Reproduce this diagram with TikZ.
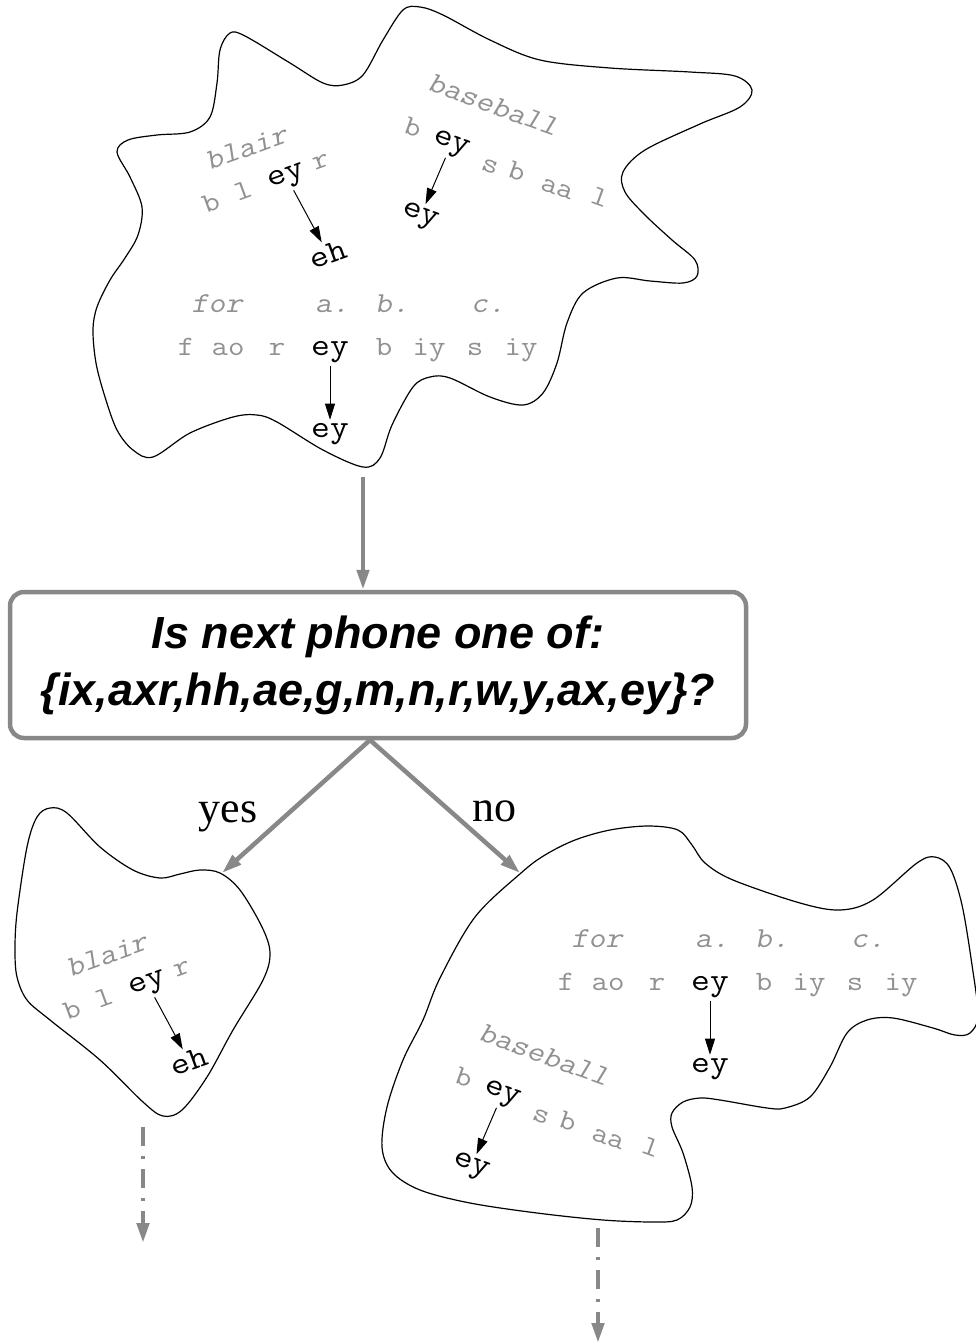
\documentclass[tikz,border=0pt]{standalone}
\usepackage{fontspec}
\usetikzlibrary{arrows.meta}
\newfontfamily\monofam{Latin Modern Mono}[FakeStretch=1.14]
\newfontfamily\monoobl{Latin Modern Mono}[FakeStretch=1.14, FakeSlant=0.2]
\newfontfamily\sansfam{Liberation Sans}
\newfontfamily\seriffam{Liberation Serif}
\definecolor{phgray}{RGB}{145,145,145}
\definecolor{arrgray}{RGB}{136,136,136}
\tikzset{
  gphone/.style={font=\monofam\fontsize{28}{32}\selectfont, text=phgray, inner sep=0pt},
  gword/.style={font=\monoobl\fontsize{29}{33}\selectfont, text=phgray, inner sep=0pt},
  bphone/.style={font=\monofam\fontsize{32}{36}\selectfont, text=black, inner sep=2pt},
  phonearrow/.style={draw=black, line width=1pt, -{Triangle[length=16pt,width=10pt]}, shorten >=1pt, shorten <=1pt},
  cloudline/.style={draw=black, line width=1.2pt},
  grayarrow/.style={draw=arrgray, line width=4.5pt, -{Triangle[length=20pt,width=12pt]}},
  dasharrow/.style={grayarrow, dash pattern=on 19pt off 10pt on 3pt off 10pt},
  qbox/.style={draw=arrgray, line width=4.5pt, rounded corners=14pt, fill=white,
    minimum width=736pt, minimum height=146pt, align=center,
    font=\sansfam\bfseries\itshape\fontsize{45}{57}\selectfont},
  lbl/.style={font=\seriffam\fontsize{44}{50}\selectfont, inner sep=0pt},
  % word "blair" with its phones, tilted upwards
  blairgrp/.pic={
    \node[gword, rotate=20] (-word) at (-41,-30) {blair};
    \node[gphone, rotate=20] (-p1) at (-76,25) {b};
    \node[gphone, rotate=20] (-p2) at (-44,13) {l};
    \node[bphone, rotate=20] (-ey) at (0,0) {ey};
    \node[gphone, rotate=20] (-p4) at (34,-16) {r};
    \node[bphone, rotate=20] (-res) at (41,76) {eh};
    \draw[phonearrow] (-ey) -- (-res);
  },
  % word "baseball" with its phones, tilted downwards
  basegrp/.pic={
    \node[gword, rotate=-20] (-word) at (42,-40) {baseball};
    \node[gphone, rotate=-20] (-p1) at (-38,-18) {b};
    \node[bphone, rotate=-20] (-ey) at (0,0) {ey};
    \node[gphone, rotate=-20] (-p3) at (39,22) {s};
    \node[gphone, rotate=-20] (-p4) at (66,26) {b};
    \node[gphone, rotate=-20] (-p5) at (106,44) {aa};
    \node[gphone, rotate=-20] (-p6) at (149,52) {l};
    \node[bphone, rotate=-20] (-res) at (-31,72) {ey};
    \draw[phonearrow] (-ey) -- (-res);
  },
  % phrase "for a. b. c." with its phones
  forgrp/.pic={
    \node[gword, anchor=base] (-w1) at (-113,-43) {for};
    \node[gword, anchor=base] (-w2) at (2,-43) {a.};
    \node[gword, anchor=base] (-w3) at (62,-43) {b.};
    \node[gword, anchor=base] (-w4) at (158,-43) {c.};
    \node[gphone, anchor=base] (-p1) at (-144,0) {f};
    \node[gphone, anchor=base] (-p2) at (-102,0) {ao};
    \node[gphone, anchor=base] (-p3) at (-53,0) {r};
    \node[bphone, anchor=base] (-ey) at (0,0) {ey};
    \node[gphone, anchor=base] (-p5) at (54,0) {b};
    \node[gphone, anchor=base] (-p6) at (99,0) {iy};
    \node[gphone, anchor=base] (-p7) at (145,0) {s};
    \node[gphone, anchor=base] (-p8) at (191,0) {iy};
    \node[bphone, anchor=base] (-res) at (0,82) {ey};
    \draw[phonearrow] (-ey) -- (-res);
  },
}
\begin{document}
\begin{tikzpicture}[x=1pt, y=-1pt]
\fill[white] (0,0) rectangle (976,1344);
\useasboundingbox (0,0) rectangle (976,1344);

% parent set of examples
\draw[cloudline] plot[smooth cycle, tension=0.55] coordinates {
  (117,152) (128,140) (157,135) (190,132) (210,117) (217,83) (220,50) (230,33)
  (245,36) (290,63) (323,83) (343,85) (363,75) (383,40) (403,10) (420,7)
  (443,15) (490,40) (540,60) (610,68) (690,72) (735,76) (752,90) (740,107)
  (700,124) (645,150) (623,172) (625,192) (645,215) (672,240) (695,260)
  (697,276) (683,283) (650,281) (617,278) (583,293) (567,323) (557,363)
  (543,393) (523,405) (490,397) (450,378) (430,377) (413,387) (392,425)
  (380,458) (363,467) (323,450) (277,422) (257,415) (233,417) (190,433)
  (153,457) (133,450) (117,430) (105,397) (96,363) (93,330) (97,307)
  (110,280) (125,258) (138,235) (142,207) (130,177)};

% subset answering "yes"
\draw[cloudline] plot[smooth cycle, tension=0.55] coordinates {
  (50,808) (67,813) (100,847) (133,870) (160,878) (180,874) (200,870)
  (220,873) (240,890) (262,927) (270,953) (263,980) (233,1030) (207,1077)
  (182,1110) (163,1116) (143,1102) (100,1060) (50,1020) (27,1000) (17,977)
  (15,950) (17,913) (27,847) (37,817)};

% subset answering "no"
\draw[cloudline] plot[smooth cycle, tension=0.55] coordinates {
  (521,873) (545,855) (575,840) (610,830) (648,826) (678,830) (692,845)
  (705,863) (733,880) (800,903) (840,910) (873,900) (917,863) (935,857)
  (950,868) (962,905) (972,965) (978,1015) (970,1033) (955,1035) (933,1028)
  (893,1018) (867,1020) (847,1033) (830,1067) (810,1097) (785,1108)
  (767,1108) (720,1100) (700,1098) (683,1102) (672,1113) (672,1127)
  (683,1153) (692,1187) (690,1207) (677,1220) (653,1222) (603,1220)
  (537,1213) (470,1203) (420,1190) (392,1172) (382,1147) (387,1107)
  (403,1060) (423,1020) (440,978) (475,917)};

% example words and their phone mappings
\pic (tb) at (287,178) {blairgrp};
\pic (tbs) at (451,145) {basegrp};
\pic (tf) at (330,355) {forgrp};
\pic (lb) at (148,985) {blairgrp};
\pic (rbs) at (502,1095) {basegrp};
\pic (rf) at (710,990) {forgrp};

% the question
\node[qbox] (q) at (378,665)
  {Is next phone one of:\\\{ix,axr,hh,ae,g,m,n,r,w,y,ax,ey\}?};

\coordinate (topout) at (363,477);
\draw[grayarrow] (topout) -- (topout |- q.north);

\coordinate (split) at (370,740);
\coordinate (yesin) at (222,873);
\coordinate (noin) at (520,873);
\draw[grayarrow] (split) -- (yesin);
\draw[grayarrow] (split) -- (noin);
\node[lbl, anchor=base] (yes) at (228,822) {yes};
\node[lbl, anchor=base] (no) at (494,821) {no};

% further splits
\coordinate (lout) at (143,1127);
\coordinate (lend) at (143,1243);
\draw[dasharrow] (lout) -- (lend);
\coordinate (rout) at (598,1228);
\coordinate (rend) at (598,1343);
\draw[dasharrow] (rout) -- (rend);
\end{tikzpicture}
\end{document}
